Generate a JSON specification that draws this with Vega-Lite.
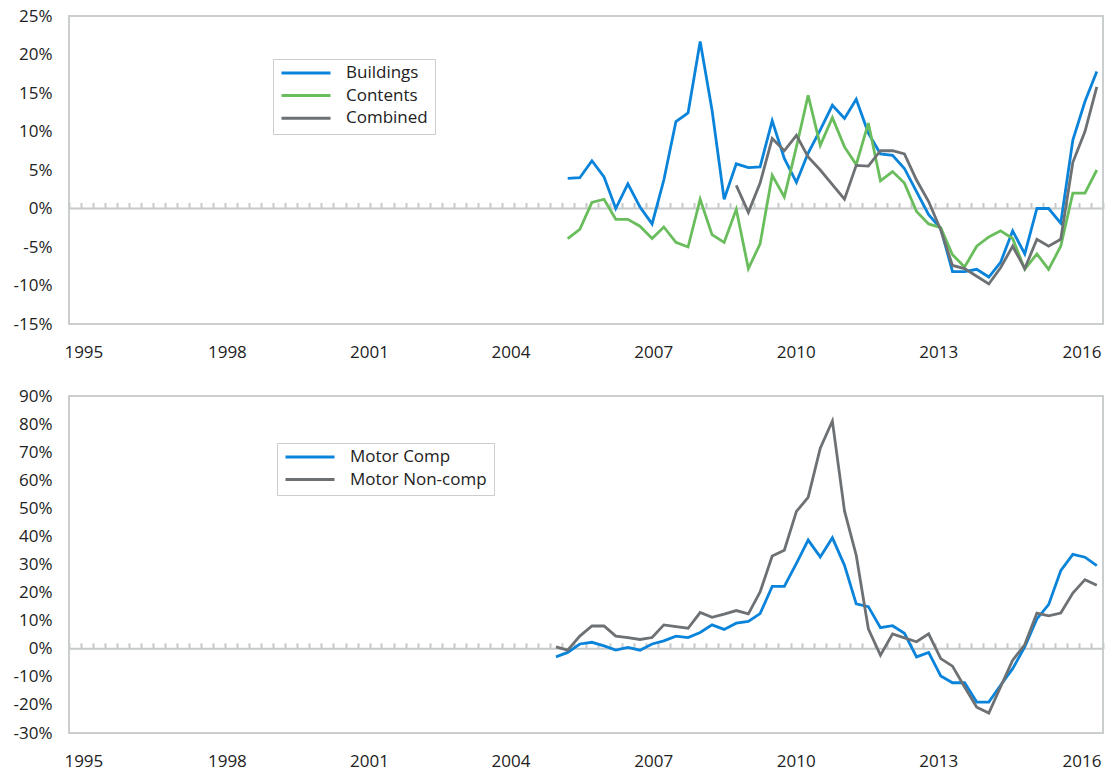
{
  "$schema": "https://vega.github.io/schema/vega-lite/v6.json",
  "background": "white",
  "padding": {"left": 12, "top": 6, "right": 2, "bottom": 0},
  "bounds": "flush",
  "spacing": 72,
  "config": {
    "font": "Open Sans",
    "view": {"stroke": "#CACECE", "strokeWidth": 2},
    "axis": {"labelFont": "Open Sans", "labelFontSize": 17, "labelColor": "#222222", "grid": false},
    "legend": {"labelFont": "Open Sans", "labelFontSize": 17, "labelColor": "#222222"}
  },
  "resolve": {"scale": {"x": "independent", "y": "independent", "color": "independent"}},
  "datasets": {
    "property": [
      {"date": "2005-05-15", "series": "Buildings", "value": 3.9},
      {"date": "2005-08-15", "series": "Buildings", "value": 4.0},
      {"date": "2005-11-15", "series": "Buildings", "value": 6.2},
      {"date": "2006-02-15", "series": "Buildings", "value": 4.1},
      {"date": "2006-05-15", "series": "Buildings", "value": 0.0},
      {"date": "2006-08-15", "series": "Buildings", "value": 3.2},
      {"date": "2006-11-15", "series": "Buildings", "value": 0.2},
      {"date": "2007-02-15", "series": "Buildings", "value": -2.0},
      {"date": "2007-05-15", "series": "Buildings", "value": 3.7},
      {"date": "2007-08-15", "series": "Buildings", "value": 11.3},
      {"date": "2007-11-15", "series": "Buildings", "value": 12.4},
      {"date": "2008-02-15", "series": "Buildings", "value": 21.7},
      {"date": "2008-05-15", "series": "Buildings", "value": 12.8},
      {"date": "2008-08-15", "series": "Buildings", "value": 1.2},
      {"date": "2008-11-15", "series": "Buildings", "value": 5.8},
      {"date": "2009-02-15", "series": "Buildings", "value": 5.3},
      {"date": "2009-05-15", "series": "Buildings", "value": 5.4},
      {"date": "2009-08-15", "series": "Buildings", "value": 11.4},
      {"date": "2009-11-15", "series": "Buildings", "value": 6.5},
      {"date": "2010-02-15", "series": "Buildings", "value": 3.4},
      {"date": "2010-05-15", "series": "Buildings", "value": 7.2},
      {"date": "2010-08-15", "series": "Buildings", "value": 10.2},
      {"date": "2010-11-15", "series": "Buildings", "value": 13.4},
      {"date": "2011-02-15", "series": "Buildings", "value": 11.7},
      {"date": "2011-05-15", "series": "Buildings", "value": 14.2},
      {"date": "2011-08-15", "series": "Buildings", "value": 9.8},
      {"date": "2011-11-15", "series": "Buildings", "value": 7.1},
      {"date": "2012-02-15", "series": "Buildings", "value": 6.9},
      {"date": "2012-05-15", "series": "Buildings", "value": 5.2},
      {"date": "2012-08-15", "series": "Buildings", "value": 2.2},
      {"date": "2012-11-15", "series": "Buildings", "value": -0.8},
      {"date": "2013-02-15", "series": "Buildings", "value": -2.6},
      {"date": "2013-05-15", "series": "Buildings", "value": -8.2},
      {"date": "2013-08-15", "series": "Buildings", "value": -8.2},
      {"date": "2013-11-15", "series": "Buildings", "value": -7.9},
      {"date": "2014-02-15", "series": "Buildings", "value": -8.9},
      {"date": "2014-05-15", "series": "Buildings", "value": -7.0},
      {"date": "2014-08-15", "series": "Buildings", "value": -2.9},
      {"date": "2014-11-15", "series": "Buildings", "value": -5.9},
      {"date": "2015-02-15", "series": "Buildings", "value": 0.0},
      {"date": "2015-05-15", "series": "Buildings", "value": 0.0},
      {"date": "2015-08-15", "series": "Buildings", "value": -1.9},
      {"date": "2015-11-15", "series": "Buildings", "value": 8.9},
      {"date": "2016-02-15", "series": "Buildings", "value": 13.9},
      {"date": "2016-05-15", "series": "Buildings", "value": 17.8},
      {"date": "2005-05-15", "series": "Contents", "value": -3.9},
      {"date": "2005-08-15", "series": "Contents", "value": -2.7},
      {"date": "2005-11-15", "series": "Contents", "value": 0.8},
      {"date": "2006-02-15", "series": "Contents", "value": 1.2},
      {"date": "2006-05-15", "series": "Contents", "value": -1.4},
      {"date": "2006-08-15", "series": "Contents", "value": -1.4},
      {"date": "2006-11-15", "series": "Contents", "value": -2.3},
      {"date": "2007-02-15", "series": "Contents", "value": -3.9},
      {"date": "2007-05-15", "series": "Contents", "value": -2.4},
      {"date": "2007-08-15", "series": "Contents", "value": -4.4},
      {"date": "2007-11-15", "series": "Contents", "value": -5.0},
      {"date": "2008-02-15", "series": "Contents", "value": 1.2},
      {"date": "2008-05-15", "series": "Contents", "value": -3.4},
      {"date": "2008-08-15", "series": "Contents", "value": -4.4},
      {"date": "2008-11-15", "series": "Contents", "value": -0.1},
      {"date": "2009-02-15", "series": "Contents", "value": -7.8},
      {"date": "2009-05-15", "series": "Contents", "value": -4.6},
      {"date": "2009-08-15", "series": "Contents", "value": 4.3},
      {"date": "2009-11-15", "series": "Contents", "value": 1.5},
      {"date": "2010-02-15", "series": "Contents", "value": 8.0},
      {"date": "2010-05-15", "series": "Contents", "value": 14.7},
      {"date": "2010-08-15", "series": "Contents", "value": 8.2},
      {"date": "2010-11-15", "series": "Contents", "value": 11.8},
      {"date": "2011-02-15", "series": "Contents", "value": 8.0},
      {"date": "2011-05-15", "series": "Contents", "value": 5.7},
      {"date": "2011-08-15", "series": "Contents", "value": 11.1},
      {"date": "2011-11-15", "series": "Contents", "value": 3.6},
      {"date": "2012-02-15", "series": "Contents", "value": 4.8},
      {"date": "2012-05-15", "series": "Contents", "value": 3.3},
      {"date": "2012-08-15", "series": "Contents", "value": -0.4},
      {"date": "2012-11-15", "series": "Contents", "value": -2.0},
      {"date": "2013-02-15", "series": "Contents", "value": -2.5},
      {"date": "2013-05-15", "series": "Contents", "value": -6.0},
      {"date": "2013-08-15", "series": "Contents", "value": -7.6},
      {"date": "2013-11-15", "series": "Contents", "value": -4.9},
      {"date": "2014-02-15", "series": "Contents", "value": -3.7},
      {"date": "2014-05-15", "series": "Contents", "value": -2.9},
      {"date": "2014-08-15", "series": "Contents", "value": -3.9},
      {"date": "2014-11-15", "series": "Contents", "value": -7.9},
      {"date": "2015-02-15", "series": "Contents", "value": -5.9},
      {"date": "2015-05-15", "series": "Contents", "value": -7.9},
      {"date": "2015-08-15", "series": "Contents", "value": -4.9},
      {"date": "2015-11-15", "series": "Contents", "value": 2.0},
      {"date": "2016-02-15", "series": "Contents", "value": 2.0},
      {"date": "2016-05-15", "series": "Contents", "value": 5.0},
      {"date": "2008-11-15", "series": "Combined", "value": 3.0},
      {"date": "2009-02-15", "series": "Combined", "value": -0.5},
      {"date": "2009-05-15", "series": "Combined", "value": 3.3},
      {"date": "2009-08-15", "series": "Combined", "value": 9.1},
      {"date": "2009-11-15", "series": "Combined", "value": 7.5},
      {"date": "2010-02-15", "series": "Combined", "value": 9.5},
      {"date": "2010-05-15", "series": "Combined", "value": 6.7},
      {"date": "2010-08-15", "series": "Combined", "value": 5.0},
      {"date": "2010-11-15", "series": "Combined", "value": 3.1},
      {"date": "2011-02-15", "series": "Combined", "value": 1.2},
      {"date": "2011-05-15", "series": "Combined", "value": 5.6},
      {"date": "2011-08-15", "series": "Combined", "value": 5.5},
      {"date": "2011-11-15", "series": "Combined", "value": 7.5},
      {"date": "2012-02-15", "series": "Combined", "value": 7.5},
      {"date": "2012-05-15", "series": "Combined", "value": 7.1},
      {"date": "2012-08-15", "series": "Combined", "value": 3.7},
      {"date": "2012-11-15", "series": "Combined", "value": 0.9},
      {"date": "2013-02-15", "series": "Combined", "value": -2.8},
      {"date": "2013-05-15", "series": "Combined", "value": -7.4},
      {"date": "2013-08-15", "series": "Combined", "value": -7.8},
      {"date": "2013-11-15", "series": "Combined", "value": -8.8},
      {"date": "2014-02-15", "series": "Combined", "value": -9.8},
      {"date": "2014-05-15", "series": "Combined", "value": -7.7},
      {"date": "2014-08-15", "series": "Combined", "value": -4.9},
      {"date": "2014-11-15", "series": "Combined", "value": -7.8},
      {"date": "2015-02-15", "series": "Combined", "value": -4.0},
      {"date": "2015-05-15", "series": "Combined", "value": -4.9},
      {"date": "2015-08-15", "series": "Combined", "value": -4.0},
      {"date": "2015-11-15", "series": "Combined", "value": 6.0},
      {"date": "2016-02-15", "series": "Combined", "value": 10.0},
      {"date": "2016-05-15", "series": "Combined", "value": 15.8}
    ],
    "motor": [
      {"date": "2005-02-15", "series": "Motor Comp", "value": -2.9},
      {"date": "2005-05-15", "series": "Motor Comp", "value": -1.3},
      {"date": "2005-08-15", "series": "Motor Comp", "value": 1.7},
      {"date": "2005-11-15", "series": "Motor Comp", "value": 2.3},
      {"date": "2006-02-15", "series": "Motor Comp", "value": 1.0},
      {"date": "2006-05-15", "series": "Motor Comp", "value": -0.5},
      {"date": "2006-08-15", "series": "Motor Comp", "value": 0.5},
      {"date": "2006-11-15", "series": "Motor Comp", "value": -0.5},
      {"date": "2007-02-15", "series": "Motor Comp", "value": 1.7},
      {"date": "2007-05-15", "series": "Motor Comp", "value": 2.8},
      {"date": "2007-08-15", "series": "Motor Comp", "value": 4.5},
      {"date": "2007-11-15", "series": "Motor Comp", "value": 4.0},
      {"date": "2008-02-15", "series": "Motor Comp", "value": 5.8},
      {"date": "2008-05-15", "series": "Motor Comp", "value": 8.5},
      {"date": "2008-08-15", "series": "Motor Comp", "value": 6.9},
      {"date": "2008-11-15", "series": "Motor Comp", "value": 9.1},
      {"date": "2009-02-15", "series": "Motor Comp", "value": 9.7},
      {"date": "2009-05-15", "series": "Motor Comp", "value": 12.5},
      {"date": "2009-08-15", "series": "Motor Comp", "value": 22.2},
      {"date": "2009-11-15", "series": "Motor Comp", "value": 22.2},
      {"date": "2010-02-15", "series": "Motor Comp", "value": 30.4},
      {"date": "2010-05-15", "series": "Motor Comp", "value": 38.7},
      {"date": "2010-08-15", "series": "Motor Comp", "value": 32.7},
      {"date": "2010-11-15", "series": "Motor Comp", "value": 39.5},
      {"date": "2011-02-15", "series": "Motor Comp", "value": 29.7},
      {"date": "2011-05-15", "series": "Motor Comp", "value": 16.0},
      {"date": "2011-08-15", "series": "Motor Comp", "value": 15.0},
      {"date": "2011-11-15", "series": "Motor Comp", "value": 7.5},
      {"date": "2012-02-15", "series": "Motor Comp", "value": 8.2},
      {"date": "2012-05-15", "series": "Motor Comp", "value": 5.5},
      {"date": "2012-08-15", "series": "Motor Comp", "value": -2.9},
      {"date": "2012-11-15", "series": "Motor Comp", "value": -1.3},
      {"date": "2013-02-15", "series": "Motor Comp", "value": -9.7},
      {"date": "2013-05-15", "series": "Motor Comp", "value": -12.1},
      {"date": "2013-08-15", "series": "Motor Comp", "value": -12.1},
      {"date": "2013-11-15", "series": "Motor Comp", "value": -19.0},
      {"date": "2014-02-15", "series": "Motor Comp", "value": -19.0},
      {"date": "2014-05-15", "series": "Motor Comp", "value": -13.0},
      {"date": "2014-08-15", "series": "Motor Comp", "value": -7.1},
      {"date": "2014-11-15", "series": "Motor Comp", "value": 0.7},
      {"date": "2015-02-15", "series": "Motor Comp", "value": 10.6},
      {"date": "2015-05-15", "series": "Motor Comp", "value": 15.7},
      {"date": "2015-08-15", "series": "Motor Comp", "value": 27.8},
      {"date": "2015-11-15", "series": "Motor Comp", "value": 33.6},
      {"date": "2016-02-15", "series": "Motor Comp", "value": 32.6},
      {"date": "2016-05-15", "series": "Motor Comp", "value": 29.6},
      {"date": "2005-02-15", "series": "Motor Non-comp", "value": 0.7},
      {"date": "2005-05-15", "series": "Motor Non-comp", "value": -0.5},
      {"date": "2005-08-15", "series": "Motor Non-comp", "value": 4.5},
      {"date": "2005-11-15", "series": "Motor Non-comp", "value": 8.1},
      {"date": "2006-02-15", "series": "Motor Non-comp", "value": 8.1},
      {"date": "2006-05-15", "series": "Motor Non-comp", "value": 4.5},
      {"date": "2006-08-15", "series": "Motor Non-comp", "value": 4.0},
      {"date": "2006-11-15", "series": "Motor Non-comp", "value": 3.3},
      {"date": "2007-02-15", "series": "Motor Non-comp", "value": 4.0},
      {"date": "2007-05-15", "series": "Motor Non-comp", "value": 8.5},
      {"date": "2007-08-15", "series": "Motor Non-comp", "value": 7.9},
      {"date": "2007-11-15", "series": "Motor Non-comp", "value": 7.3},
      {"date": "2008-02-15", "series": "Motor Non-comp", "value": 12.9},
      {"date": "2008-05-15", "series": "Motor Non-comp", "value": 11.2},
      {"date": "2008-08-15", "series": "Motor Non-comp", "value": 12.3},
      {"date": "2008-11-15", "series": "Motor Non-comp", "value": 13.6},
      {"date": "2009-02-15", "series": "Motor Non-comp", "value": 12.4},
      {"date": "2009-05-15", "series": "Motor Non-comp", "value": 20.2},
      {"date": "2009-08-15", "series": "Motor Non-comp", "value": 33.0},
      {"date": "2009-11-15", "series": "Motor Non-comp", "value": 35.1},
      {"date": "2010-02-15", "series": "Motor Non-comp", "value": 48.9},
      {"date": "2010-05-15", "series": "Motor Non-comp", "value": 53.9},
      {"date": "2010-08-15", "series": "Motor Non-comp", "value": 71.4},
      {"date": "2010-11-15", "series": "Motor Non-comp", "value": 81.1},
      {"date": "2011-02-15", "series": "Motor Non-comp", "value": 49.1},
      {"date": "2011-05-15", "series": "Motor Non-comp", "value": 33.3},
      {"date": "2011-08-15", "series": "Motor Non-comp", "value": 7.1},
      {"date": "2011-11-15", "series": "Motor Non-comp", "value": -2.3},
      {"date": "2012-02-15", "series": "Motor Non-comp", "value": 5.3},
      {"date": "2012-05-15", "series": "Motor Non-comp", "value": 3.9},
      {"date": "2012-08-15", "series": "Motor Non-comp", "value": 2.5},
      {"date": "2012-11-15", "series": "Motor Non-comp", "value": 5.3},
      {"date": "2013-02-15", "series": "Motor Non-comp", "value": -3.5},
      {"date": "2013-05-15", "series": "Motor Non-comp", "value": -6.2},
      {"date": "2013-08-15", "series": "Motor Non-comp", "value": -13.6},
      {"date": "2013-11-15", "series": "Motor Non-comp", "value": -20.8},
      {"date": "2014-02-15", "series": "Motor Non-comp", "value": -22.9},
      {"date": "2014-05-15", "series": "Motor Non-comp", "value": -13.6},
      {"date": "2014-08-15", "series": "Motor Non-comp", "value": -4.1},
      {"date": "2014-11-15", "series": "Motor Non-comp", "value": 1.5},
      {"date": "2015-02-15", "series": "Motor Non-comp", "value": 12.7},
      {"date": "2015-05-15", "series": "Motor Non-comp", "value": 11.7},
      {"date": "2015-08-15", "series": "Motor Non-comp", "value": 12.7},
      {"date": "2015-11-15", "series": "Motor Non-comp", "value": 19.8},
      {"date": "2016-02-15", "series": "Motor Non-comp", "value": 24.6},
      {"date": "2016-05-15", "series": "Motor Non-comp", "value": 22.6}
    ]
  },
  "vconcat": [
    {
      "width": 1034,
      "height": 308,
      "layer": [
        {
          "data": {"values": [{}]},
          "mark": {"type": "rule", "color": "#C6CACA", "strokeWidth": 2},
          "encoding": {
            "x": {
              "datum": {"year": 1995, "month": 1, "date": 1, "utc": true},
              "type": "temporal",
              "scale": {"type": "utc", "domain": [{"year": 1995, "month": 1, "date": 1, "utc": true}, {"year": 2016, "month": 7, "date": 1, "utc": true}]},
              "axis": {"orient": "top", "offset": -192.5, "labels": false, "domain": false, "ticks": true, "tickSize": 6, "tickWidth": 2, "tickColor": "#C6CACA", "tickCount": {"interval": "month", "step": 3}, "grid": false, "title": null}
            },
            "x2": {"datum": {"year": 2016, "month": 7, "date": 1, "utc": true}},
            "y": {
              "datum": 0, "type": "quantitative",
              "scale": {"domain": [-15, 25], "nice": false, "zero": false},
              "axis": {"title": null, "values": [-15, -10, -5, 0, 5, 10, 15, 20, 25], "labelExpr": "datum.value + '%'", "ticks": false, "domain": false, "labelPadding": 17, "grid": false}
            }
          }
        },
        {
          "data": {"name": "property"},
          "mark": {"type": "line", "strokeWidth": 2.8},
          "encoding": {
            "x": {
              "field": "date", "type": "temporal",
              "scale": {"type": "utc", "domain": [{"year": 1995, "month": 1, "date": 1, "utc": true}, {"year": 2016, "month": 7, "date": 1, "utc": true}]},
              "axis": {
                "orient": "bottom", "title": null, "format": "%Y", "ticks": false, "domain": false, "labelPadding": 33.5, "labelBaseline": "alphabetic", "labelFlush": false, "labelOverlap": false, "grid": false,
                "values": [
                  {"year": 1995, "month": 4, "date": 20, "utc": true},
                  {"year": 1998, "month": 4, "date": 14, "utc": true},
                  {"year": 2001, "month": 3, "date": 28, "utc": true},
                  {"year": 2004, "month": 3, "date": 7, "utc": true},
                  {"year": 2007, "month": 2, "date": 24, "utc": true},
                  {"year": 2010, "month": 2, "date": 10, "utc": true},
                  {"year": 2013, "month": 1, "date": 27, "utc": true},
                  {"year": 2016, "month": 1, "date": 19, "utc": true}
                ]
              }
            },
            "y": {
              "field": "value", "type": "quantitative",
              "scale": {"domain": [-15, 25], "nice": false, "zero": false},
              "axis": {"title": null, "values": [-15, -10, -5, 0, 5, 10, 15, 20, 25], "labelExpr": "datum.value + '%'", "ticks": false, "domain": false, "labelPadding": 17, "grid": false}
            },
            "color": {
              "field": "series", "type": "nominal",
              "scale": {"domain": ["Buildings", "Contents", "Combined"], "range": ["#0A84DA", "#6ABD5C", "#6D7174"]},
              "legend": {"title": null, "orient": "none", "legendX": 204, "legendY": 43, "direction": "vertical", "symbolType": "stroke", "symbolSize": 2401, "symbolStrokeWidth": 3, "clipHeight": 14, "rowPadding": 5.6, "labelOffset": 14, "padding": 7, "strokeColor": "#CACECE"}
            }
          }
        }
      ],
      "resolve": {"axis": {"x": "independent"}}
    },
    {
      "width": 1034,
      "height": 337,
      "layer": [
        {
          "data": {"values": [{}]},
          "mark": {"type": "rule", "color": "#C6CACA", "strokeWidth": 2},
          "encoding": {
            "x": {
              "datum": {"year": 1995, "month": 1, "date": 1, "utc": true},
              "type": "temporal",
              "scale": {"type": "utc", "domain": [{"year": 1995, "month": 1, "date": 1, "utc": true}, {"year": 2016, "month": 7, "date": 1, "utc": true}]},
              "axis": {"orient": "top", "offset": -252.75, "labels": false, "domain": false, "ticks": true, "tickSize": 6, "tickWidth": 2, "tickColor": "#C6CACA", "tickCount": {"interval": "month", "step": 3}, "grid": false, "title": null}
            },
            "x2": {"datum": {"year": 2016, "month": 7, "date": 1, "utc": true}},
            "y": {
              "datum": 0, "type": "quantitative",
              "scale": {"domain": [-30, 90], "nice": false, "zero": false},
              "axis": {"title": null, "values": [-30, -20, -10, 0, 10, 20, 30, 40, 50, 60, 70, 80, 90], "labelExpr": "datum.value + '%'", "ticks": false, "domain": false, "labelPadding": 17, "grid": false}
            }
          }
        },
        {
          "data": {"name": "motor"},
          "mark": {"type": "line", "strokeWidth": 2.8},
          "encoding": {
            "x": {
              "field": "date", "type": "temporal",
              "scale": {"type": "utc", "domain": [{"year": 1995, "month": 1, "date": 1, "utc": true}, {"year": 2016, "month": 7, "date": 1, "utc": true}]},
              "axis": {
                "orient": "bottom", "title": null, "format": "%Y", "ticks": false, "domain": false, "labelPadding": 33.5, "labelBaseline": "alphabetic", "labelFlush": false, "labelOverlap": false, "grid": false,
                "values": [
                  {"year": 1995, "month": 4, "date": 20, "utc": true},
                  {"year": 1998, "month": 4, "date": 14, "utc": true},
                  {"year": 2001, "month": 3, "date": 28, "utc": true},
                  {"year": 2004, "month": 3, "date": 7, "utc": true},
                  {"year": 2007, "month": 2, "date": 24, "utc": true},
                  {"year": 2010, "month": 2, "date": 10, "utc": true},
                  {"year": 2013, "month": 1, "date": 27, "utc": true},
                  {"year": 2016, "month": 1, "date": 19, "utc": true}
                ]
              }
            },
            "y": {
              "field": "value", "type": "quantitative",
              "scale": {"domain": [-30, 90], "nice": false, "zero": false},
              "axis": {"title": null, "values": [-30, -20, -10, 0, 10, 20, 30, 40, 50, 60, 70, 80, 90], "labelExpr": "datum.value + '%'", "ticks": false, "domain": false, "labelPadding": 17, "grid": false}
            },
            "color": {
              "field": "series", "type": "nominal",
              "scale": {"domain": ["Motor Comp", "Motor Non-comp"], "range": ["#0A84DA", "#6D7174"]},
              "legend": {"title": null, "orient": "none", "legendX": 208, "legendY": 47, "direction": "vertical", "symbolType": "stroke", "symbolSize": 2401, "symbolStrokeWidth": 3, "clipHeight": 14, "rowPadding": 5.6, "labelOffset": 14, "padding": 7, "strokeColor": "#CACECE"}
            }
          }
        }
      ],
      "resolve": {"axis": {"x": "independent"}}
    }
  ]
}
